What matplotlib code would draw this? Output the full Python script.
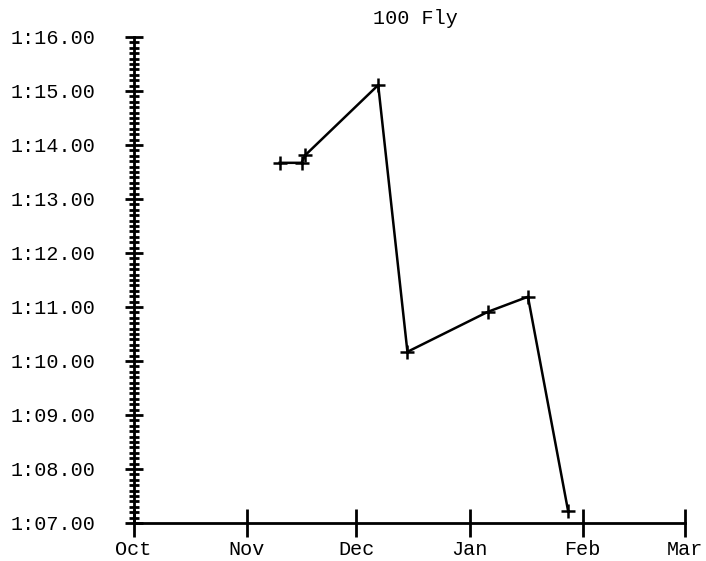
import matplotlib
matplotlib.use("Agg")
import matplotlib.pyplot as plt
import matplotlib.dates as mdates
from matplotlib.ticker import FuncFormatter, MultipleLocator
import datetime as dt

title = "100 Fly"
dates = ["2022-11-10", "2022-11-16", "2022-11-17", "2022-12-07",
         "2022-12-15", "2023-01-06", "2023-01-17", "2023-01-28"]
times = [73.67, 73.67, 73.81, 75.11, 70.17, 70.91, 71.19, 67.22]  # seconds
month_ticks = ["2022-10-01", "2022-11-01", "2022-12-01", "2023-01-01",
               "2023-02-01", "2023-03-01"]

x = [dt.datetime.strptime(d, "%Y-%m-%d") for d in dates]
mt = [dt.datetime.strptime(d, "%Y-%m-%d") for d in month_ticks]

plt.rcParams['font.family'] = ['Liberation Mono', 'DejaVu Sans Mono']
fig = plt.figure(figsize=(7.06, 5.61), dpi=100)
ax = fig.add_axes([133.5/706, 1-523/561, (685-133.5)/706, (523-37)/561])

ax.plot(x, times, color='black', lw=1.8, marker='+', markersize=10,
        markeredgewidth=1.8, clip_on=False)

ax.set_xlim(mt[0], mt[-1])
ax.set_ylim(67, 76)
ax.set_xticks(mt)
ax.xaxis.set_major_formatter(mdates.DateFormatter("%b"))
ax.yaxis.set_major_locator(MultipleLocator(1))
ax.yaxis.set_minor_locator(MultipleLocator(0.1))
ax.yaxis.set_major_formatter(FuncFormatter(lambda v, p: "1:%05.2f" % (v - 60)))

for s in ['top', 'right']:
    ax.spines[s].set_visible(False)
for s in ['left', 'bottom']:
    ax.spines[s].set_linewidth(2.0)

ax.tick_params(axis='y', which='major', direction='inout', length=13, width=2.0,
               labelsize=14.5, pad=21)
ax.tick_params(axis='y', which='minor', direction='inout', length=7.5, width=2.0)
ax.tick_params(axis='x', which='major', direction='inout', length=20, width=2.0,
               labelsize=14.5, pad=2)

fig.text(415/706, 1-18/561, title, ha='center', va='center', fontsize=14.5)

fig.savefig("out.png", dpi=100)
